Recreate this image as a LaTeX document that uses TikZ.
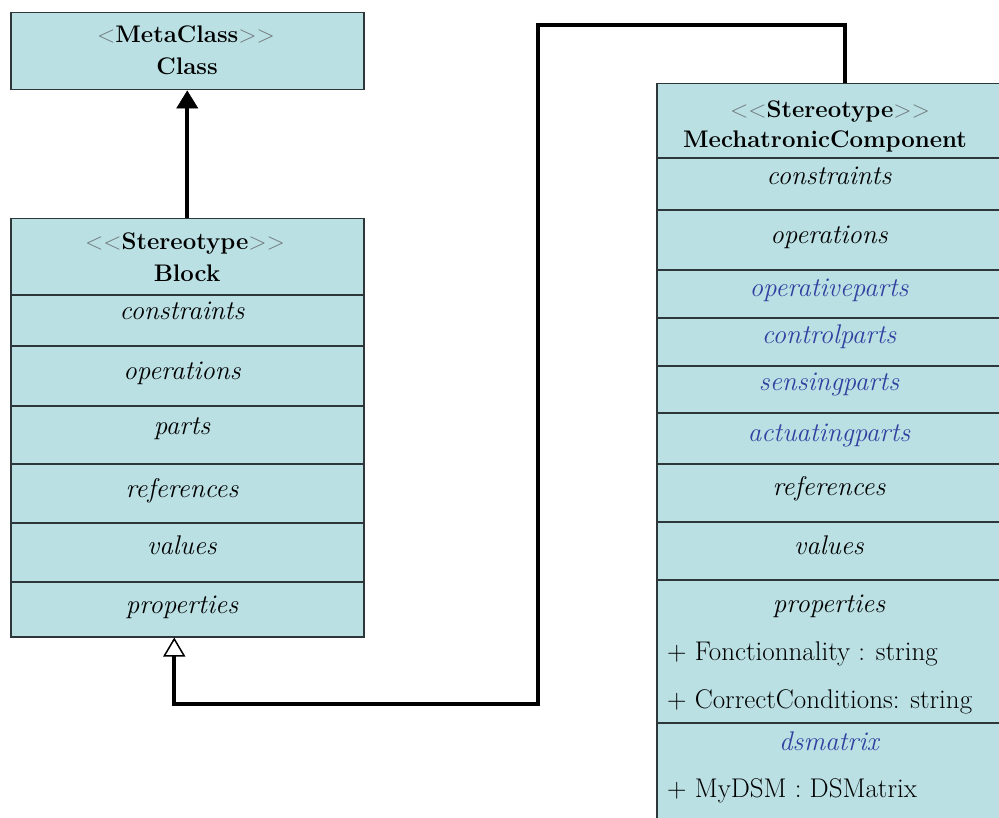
\documentclass[tikz,border=0pt]{standalone}
\usepackage{tikz}
\usetikzlibrary{arrows.meta}
\definecolor{BoxFill}{RGB}{186, 224, 228}
\definecolor{BoxLine}{RGB}{45, 55, 58}
\definecolor{PartBlue}{RGB}{50, 65, 160}
\definecolor{MarkGray}{RGB}{110, 120, 122}
\newcommand{\stL}{{\mdseries\color{MarkGray}<\kern0pt<}}
\newcommand{\stR}{{\mdseries\color{MarkGray}>\kern0pt>}}

\begin{document}
\begin{tikzpicture}[x=1pt, y=-1pt,
    umlbox/.style={draw=BoxLine, fill=BoxFill, line width=1.5pt, inner sep=0pt, anchor=north west},
    divider/.style={draw=BoxLine, line width=1.5pt},
    head/.style={font=\fontsize{24}{27}\selectfont\bfseries, inner sep=0pt, anchor=base},
    field/.style={font=\fontsize{27}{30}\selectfont\itshape, inner sep=0pt, anchor=base},
    attr/.style={font=\fontsize{27}{30}\selectfont, inner sep=0pt, anchor=base west},
    link/.style={line width=4pt, black}]
    \useasboundingbox (0,0) rectangle (999,818);
    \clip (0,0) rectangle (999,818);

    % Class box
    \node[umlbox, minimum width=353pt, minimum height=77pt] (cls) at (10,12) {};
    \node[head] (clsT1) at (186,43) {{\mdseries\color{MarkGray}<}MetaClass\stR};
    \node[head] (clsT2) at (187,75) {Class};

    % Block box
    \node[umlbox, minimum width=353pt, minimum height=418pt] (block) at (10,218) {};
    \foreach \y in {295,346,406,464,523,582} {
      \draw[divider] (block.west |- 0,\y) -- (block.east |- 0,\y);
    }
    \node[head] (blkT1) at (185,250) {\stL Stereotype\stR};
    \node[head] (blkT2) at (187,282) {Block};
    \foreach \txt/\y [count=\i] in {constraints/320, operations/379, parts/434,
        references/497, values/554, properties/613} {
      \node[field] (blkF\i) at (182,\y) {\txt};
    }

    % MechatronicComponent box
    \node[umlbox, minimum width=346pt, minimum height=760pt] (mech) at (656,83) {};
    \foreach \y in {158,210,270,318,366,413,464,522,580,723} {
      \draw[divider] (mech.west |- 0,\y) -- (mech.east |- 0,\y);
    }
    \node[head] (mchT1) at (830,118) {\stL Stereotype\stR};
    \node[head] (mchT2) at (825,148) {MechatronicComponent};
    \foreach \txt/\col/\y [count=\i] in {constraints/black/185, operations/black/244,
        operativeparts/PartBlue/297, controlparts/PartBlue/344, sensingparts/PartBlue/390,
        actuatingparts/PartBlue/441, references/black/495, values/black/554,
        properties/black/612, dsmatrix/PartBlue/750} {
      \node[field, text=\col] (mchF\i) at (829,\y) {\txt};
    }
    \node[attr] (mchA1) at (667,660) {+ Fonctionnality : string};
    \node[attr] (mchA2) at (667,708) {+ CorrectConditions: string};
    \node[attr] (mchA3) at (667,797) {+ MyDSM : DSMatrix};

    % connectors
    \coordinate (bendA) at (538,25);
    \coordinate (bendB) at (538,704);
    \draw[link, -{Triangle[length=18pt, width=22pt, line width=0.5pt]}] (block.north) -- (cls.south);
    \draw[link, -{Triangle[length=19pt, width=22pt, fill=white, line width=1.5pt]}]
      ([xshift=15pt]mech.north) |- (bendA) -- (bendB) -| ([xshift=-13pt]block.south);
  \end{tikzpicture}
\end{document}
